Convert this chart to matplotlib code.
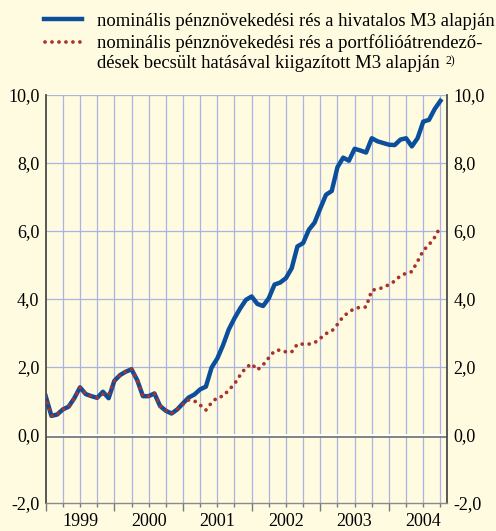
"""Nominális pénznövekedési rés – hivatalos és kiigazított M3 alapján, 1999–2004."""
import matplotlib
matplotlib.use("Agg")
import matplotlib.pyplot as plt
import matplotlib.transforms as mtransforms
from matplotlib.lines import Line2D
import numpy as np

# monthly observations, Jan 1999 .. Oct 2004
M3_OFFICIAL = [
    1.14, 0.56, 0.60, 0.75, 0.83, 1.08, 1.40, 1.20, 1.14, 1.09, 1.27, 1.08,
    1.59, 1.76, 1.86, 1.93, 1.61, 1.14, 1.14, 1.22, 0.85, 0.71, 0.63, 0.75,
    0.93, 1.10, 1.19, 1.34, 1.42, 1.98, 2.25, 2.64, 3.10, 3.43, 3.72, 3.97,
    4.07, 3.85, 3.79, 4.02, 4.42, 4.48, 4.61, 4.90, 5.54, 5.64, 6.03, 6.24,
    6.66, 7.06, 7.17, 7.87, 8.15, 8.06, 8.41, 8.36, 8.30, 8.72, 8.63, 8.58,
    8.53, 8.52, 8.68, 8.72, 8.48, 8.72, 9.21, 9.26, 9.58, 9.82,
]
M3_ADJUSTED = [
    1.14, 0.56, 0.60, 0.75, 0.83, 1.08, 1.40, 1.20, 1.14, 1.09, 1.20, 1.18,
    1.59, 1.76, 1.86, 1.93, 1.61, 1.14, 1.14, 1.22, 0.85, 0.71, 0.63, 0.75,
    0.90, 1.03, 1.00, 0.88, 0.73, 0.95, 1.10, 1.14, 1.32, 1.50, 1.76, 1.98,
    2.09, 1.91, 2.06, 2.27, 2.47, 2.50, 2.44, 2.44, 2.67, 2.67, 2.67, 2.71,
    2.84, 2.98, 3.05, 3.25, 3.48, 3.61, 3.72, 3.75, 3.76, 4.25, 4.29, 4.33,
    4.42, 4.52, 4.68, 4.75, 4.80, 5.10, 5.42, 5.59, 5.81, 6.12,
]
YEARS = ["1999", "2000", "2001", "2002", "2003", "2004"]
Y_TICKS = [-2, 0, 2, 4, 6, 8, 10]
LEGEND_LINES = [
    "nominális pénznövekedési rés a hivatalos M3 alapján",
    "nominális pénznövekedési rés a portfólióátrendező-",
    "dések becsült hatásával kiigazított M3 alapján",
]
FOOTNOTE = "2)"

BG = "#fffbe0"
GRID = "#aab3e2"
BLUE = "#0b4f9c"
RED = "#a8322c"
FONT = "Liberation Serif"
FS = 13
FS_LEGEND = 13.4


def main():
    plt.rcParams["font.family"] = FONT
    fig = plt.figure(figsize=(4.96, 5.31), dpi=100, facecolor=BG)
    W, H = 496, 531
    ax = fig.add_axes([45.7 / W, 1 - 503 / H, (447.3 - 45.7) / W, (503 - 94.7) / H])
    ax.set_facecolor(BG)

    x = np.arange(len(M3_OFFICIAL))
    ax.set_xlim(0, 70.2)
    ax.set_ylim(-2, 10)

    # grid: quarters vertically, every 2 units horizontally
    for q in range(3, 70, 3):
        ax.axvline(q, color=GRID, lw=0.9, zorder=1)
    for v in Y_TICKS[2:]:
        ax.axhline(v, color=GRID, lw=0.9, zorder=1)

    # embossed zero line
    yt = ax.get_yaxis_transform()
    down = mtransforms.ScaledTranslation(0, -1.3 / 72, fig.dpi_scale_trans)
    ax.plot([0, 1], [0, 0], color="#707070", lw=1.2, transform=yt + down, zorder=2)
    ax.plot([0, 1], [0, 0], color="white", lw=1.4, transform=yt, zorder=2)

    ax.plot(x, M3_OFFICIAL, color=BLUE, lw=3.2, solid_joinstyle="round", zorder=3)
    ax.plot(x, M3_ADJUSTED, color=RED, lw=2.7, linestyle=(0, (0.01, 1.85)),
            dash_capstyle="round", zorder=4)

    # axes frame
    for side in ("left", "right"):
        ax.spines[side].set_color("#4a4a4a")
        ax.spines[side].set_linewidth(1.3)
    ax.spines["top"].set_visible(False)
    ax.spines["bottom"].set_color("#8a8a8a")
    ax.spines["bottom"].set_linewidth(1.0)

    ax.set_yticks(Y_TICKS)
    ax.set_yticklabels([f"{v:.1f}".replace(".", ",") for v in Y_TICKS])
    ax.tick_params(axis="y", length=0, labelsize=FS, labelright=True, pad=4.5)

    ax.set_xticks(range(0, 71, 12))
    ax.set_xticks(range(0, 70, 3), minor=True)
    ax.set_xticklabels([])
    ax.tick_params(axis="x", which="major", length=5.5, width=1.0, color="#7a7a7a")
    ax.tick_params(axis="x", which="minor", length=3.0, width=1.0, color="#7a7a7a")
    for i, yr in enumerate(YEARS):
        ax.text(6 + 12 * i, -0.025, yr, transform=ax.get_xaxis_transform(),
                ha="center", va="top", fontsize=FS)

    # legend drawn by hand above the plot
    fig.add_artist(Line2D([44 / W, 81.5 / W], [1 - 19.3 / H] * 2, color=BLUE, lw=3.2))
    fig.add_artist(Line2D([45 / W, 81 / W], [1 - 41.7 / H] * 2, color=RED, lw=2.7,
                          linestyle=(0, (0.01, 1.85)), dash_capstyle="round"))
    last = None
    for line, ypx in zip(LEGEND_LINES, (21.0, 43.0, 63.8)):
        last = fig.text(96.7 / W, 1 - ypx / H, line, fontsize=FS_LEGEND, va="center")
    ax.annotate(FOOTNOTE, xy=(1, 0.62), xycoords=last, xytext=(4, 0),
                textcoords="offset points", fontsize=8.5, va="center",
                annotation_clip=False)

    fig.savefig("out.png", dpi=100, facecolor=BG)


if __name__ == "__main__":
    main()
